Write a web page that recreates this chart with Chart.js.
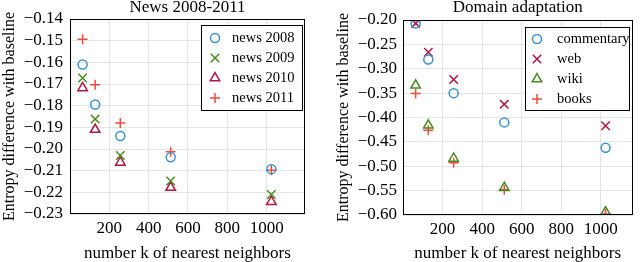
<!DOCTYPE html>
<html>
<head>
<meta charset="utf-8">
<script src="https://cdn.jsdelivr.net/npm/chart.js@4.4.1/dist/chart.umd.min.js"></script>
<style>
  html, body { margin: 0; padding: 0; background: #fff; }
  .row { display: flex; width: 640px; height: 262px; }
  canvas { display: block; }
</style>
</head>
<body>
<div class="row">
  <canvas id="newsChart" width="320" height="262"></canvas>
  <canvas id="domainChart" width="320" height="262"></canvas>
</div>
<script>
// number k of nearest neighbors
const kValues = [64, 128, 256, 512, 1024];
const xTicks = [200, 400, 600, 800, 1000];

// left panel: News 2008-2011
const newsLabels = ['news 2008', 'news 2009', 'news 2010', 'news 2011'];
const news2008 = [-0.1610, -0.1795, -0.1940, -0.2038, -0.2093];
const news2009 = [-0.1672, -0.1862, -0.2030, -0.2148, -0.2210];
const news2010 = [-0.1718, -0.1910, -0.2062, -0.2178, -0.2243];
const news2011 = [-0.1494, -0.1703, -0.1880, -0.2013, -0.2098];
const newsYTicks = [-0.14, -0.15, -0.16, -0.17, -0.18, -0.19, -0.20, -0.21, -0.22, -0.23];

// right panel: Domain adaptation
const domainLabels = ['commentary', 'web', 'wiki', 'books'];
const commentary = [-0.207, -0.281, -0.350, -0.410, -0.462];
const web = [-0.207, -0.266, -0.322, -0.373, -0.417];
const wiki = [-0.334, -0.416, -0.484, -0.544, -0.594];
const books = [-0.351, -0.426, -0.493, -0.548, -0.598];
const domainYTicks = [-0.20, -0.25, -0.30, -0.35, -0.40, -0.45, -0.50, -0.55, -0.60];

const BLUE = '#3a92cf';
const GREEN = '#4a8a22';
const CRIMSON = '#b01540';
const RED = '#ee4a3c';
const FONT = "'Liberation Serif', 'Times New Roman', serif";

const markerSize = { circle: 4.5, crossRot: 6, triangle: 5.5, cross: 5 };

function series(label, values, style, color) {
    return {
        label: label,
        data: kValues.map((k, i) => ({ x: k, y: values[i] })),
        pointStyle: style,
        pointRadius: markerSize[style],
        pointHoverRadius: markerSize[style],
        borderColor: color,
        backgroundColor: 'rgba(0,0,0,0)',
        borderWidth: 1.5,
        showLine: false,
        clip: 0
    };
}

function fmt(v) {
    return v.toFixed(2).replace('-', '\u2212');
}

// own marker drawing for the legend (same geometry as Chart.js)
function drawMarker(ctx, style, r, x, y) {
    ctx.beginPath();
    if (style === 'circle') {
        ctx.arc(x, y, r, 0, Math.PI * 2);
    } else if (style === 'triangle') {
        let a = -Math.PI / 2;
        ctx.moveTo(x + Math.cos(a) * r, y + Math.sin(a) * r);
        a += 2 * Math.PI / 3;
        ctx.lineTo(x + Math.cos(a) * r, y + Math.sin(a) * r);
        a += 2 * Math.PI / 3;
        ctx.lineTo(x + Math.cos(a) * r, y + Math.sin(a) * r);
        ctx.closePath();
    } else if (style === 'cross') {
        ctx.moveTo(x - r, y); ctx.lineTo(x + r, y);
        ctx.moveTo(x, y - r); ctx.lineTo(x, y + r);
    } else if (style === 'crossRot') {
        const d = r * Math.SQRT1_2;
        ctx.moveTo(x - d, y - d); ctx.lineTo(x + d, y + d);
        ctx.moveTo(x - d, y + d); ctx.lineTo(x + d, y - d);
    }
    ctx.stroke();
}

// title over the plot, box around the plot and the boxed legend in the upper right
const framePlugin = {
    id: 'frame',
    afterDraw(chart, args, opts) {
        const { ctx, chartArea: a } = chart;
        ctx.save();

        ctx.fillStyle = '#000';
        ctx.font = '17px ' + FONT;
        ctx.textAlign = 'center';
        ctx.textBaseline = 'alphabetic';
        ctx.fillText(opts.title, (a.left + a.right) / 2, opts.titleBase);

        ctx.strokeStyle = '#000';
        ctx.lineWidth = 1;
        ctx.strokeRect(Math.round(a.left) + 0.5, Math.round(a.top) + 0.5,
            Math.round(a.right - a.left) - 1, Math.round(a.bottom - a.top) - 1);

        const lg = opts.legend;
        const left = Math.round(a.right - lg.right - lg.width);
        const top = Math.round(a.top + lg.top);
        ctx.fillStyle = '#fff';
        ctx.fillRect(left, top, lg.width, lg.height);
        ctx.strokeRect(left + 0.5, top + 0.5, lg.width, lg.height);

        ctx.font = lg.fontSize + 'px ' + FONT;
        ctx.textBaseline = 'middle';
        ctx.textAlign = 'left';
        chart.data.datasets.forEach((ds, i) => {
            const y = top + lg.firstRow + i * lg.rowGap;
            ctx.strokeStyle = ds.borderColor;
            ctx.lineWidth = ds.borderWidth;
            drawMarker(ctx, ds.pointStyle, ds.pointRadius, left + lg.markerX, y);
            ctx.fillStyle = '#000';
            ctx.fillText(ds.label, left + lg.textX, y);
        });
        ctx.restore();
    }
};

function makeChart(id, cfg) {
    const ctx = document.getElementById(id).getContext('2d');
    return new Chart(ctx, {
        type: 'scatter',
        data: { datasets: cfg.datasets },
        options: {
            responsive: false,
            animation: false,
            layout: { padding: { left: 0, right: cfg.padRight, top: cfg.padTop, bottom: 0 } },
            plugins: {
                legend: { display: false },
                tooltip: { enabled: false },
                title: { display: false },
                frame: { title: cfg.title, titleBase: 12, legend: cfg.legend }
            },
            scales: {
                x: {
                    type: 'linear',
                    min: 0,
                    max: cfg.xMax,
                    afterBuildTicks: s => { s.ticks = xTicks.map(v => ({ value: v })); },
                    afterFit: s => { s.height = cfg.xHeight; },
                    grid: { color: '#e4e4e4', drawTicks: false },
                    border: { display: false },
                    ticks: {
                        color: '#000',
                        padding: 4,
                        autoSkip: false,
                        maxRotation: 0,
                        font: { family: FONT, size: 17 },
                        callback: v => String(v)
                    },
                    title: {
                        display: true,
                        text: 'number k of nearest neighbors',
                        color: '#000',
                        font: { family: FONT, size: 17, lineHeight: 1 },
                        padding: { top: 0, bottom: 0 }
                    }
                },
                y: {
                    type: 'linear',
                    min: cfg.yMin,
                    max: cfg.yMax,
                    afterBuildTicks: s => { s.ticks = cfg.yTicks.map(v => ({ value: v })); },
                    afterFit: s => { s.width = cfg.yWidth; },
                    grid: { color: '#e4e4e4', drawTicks: false },
                    border: { display: false },
                    ticks: {
                        color: '#000',
                        padding: cfg.yTickPad,
                        autoSkip: false,
                        font: { family: FONT, size: 17 },
                        callback: v => fmt(v)
                    },
                    title: {
                        display: true,
                        text: 'Entropy difference with baseline',
                        color: '#000',
                        font: { family: FONT, size: 16 },
                        padding: { top: cfg.yTitlePad, bottom: 0 }
                    }
                }
            }
        },
        plugins: [framePlugin]
    });
}

makeChart('newsChart', {
    title: 'News 2008-2011',
    datasets: [
        series(newsLabels[0], news2008, 'circle', BLUE),
        series(newsLabels[1], news2009, 'crossRot', GREEN),
        series(newsLabels[2], news2010, 'triangle', CRIMSON),
        series(newsLabels[3], news2011, 'cross', RED)
    ],
    yMin: -0.23, yMax: -0.14, yTicks: newsYTicks,
    xMax: 1195,
    padRight: 15, padTop: 19, xHeight: 48, yWidth: 70, yTickPad: 7, yTitlePad: 0,
    legend: { right: 3, top: 6, width: 101, height: 85, firstRow: 13, rowGap: 20, markerX: 14, textX: 31, fontSize: 14.5 }
});

makeChart('domainChart', {
    title: 'Domain adaptation',
    datasets: [
        series(domainLabels[0], commentary, 'circle', BLUE),
        series(domainLabels[1], web, 'crossRot', CRIMSON),
        series(domainLabels[2], wiki, 'triangle', GREEN),
        series(domainLabels[3], books, 'cross', RED)
    ],
    yMin: -0.60, yMax: -0.20, yTicks: domainYTicks,
    xMax: 1160,
    padRight: 7, padTop: 20, xHeight: 47, yWidth: 83, yTickPad: 6, yTitlePad: 14,
    legend: { right: 4, top: 7, width: 104, height: 83, firstRow: 12, rowGap: 20, markerX: 12, textX: 32, fontSize: 14.5 }
});
</script>
</body>
</html>
